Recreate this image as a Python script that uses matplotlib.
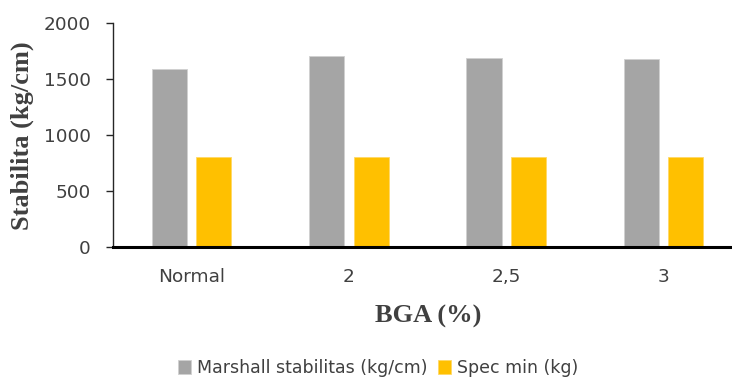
import numpy as np
import matplotlib
matplotlib.use("Agg")
import matplotlib.pyplot as plt

# data
categories = ["Normal", "2", "2,5", "3"]
marshall = [1590, 1703, 1688, 1673]
spec_min = [800, 800, 800, 800]
yticks = [0, 500, 1000, 1500, 2000]

grey = "#A5A5A5"
yellow = "#FFC000"
txt = "#404040"

fig = plt.figure(figsize=(7.32, 3.79), dpi=100)
ax = fig.add_axes([0.1544, 0.349, 0.8593, 0.591])

x = np.arange(len(categories))
w = 0.223
ax.bar(x - 0.141, marshall, w, color=grey, edgecolor="#D0D0D0", linewidth=0.6,
       label="Marshall stabilitas (kg/cm)")
ax.bar(x + 0.141, spec_min, w, color=yellow, edgecolor="#FFD966", linewidth=0.6,
       label="Spec min (kg)")

ax.set_xlim(-0.5, len(categories) - 0.5)
ax.set_ylim(0, 2000)
ax.set_yticks(yticks)
ax.set_xticks(x)
ax.set_xticklabels(categories)

for s in ("top", "right"):
    ax.spines[s].set_visible(False)
ax.spines["left"].set_color("#262626")
ax.spines["left"].set_linewidth(1.0)
ax.spines["bottom"].set_color("black")
ax.spines["bottom"].set_linewidth(2.2)

ax.tick_params(axis="y", length=5, width=1, color="#262626", pad=11,
               labelsize=13.3, labelcolor=txt)
ax.tick_params(axis="x", length=0, pad=15, labelsize=13.3, labelcolor=txt)
for lab in ax.get_xticklabels() + ax.get_yticklabels():
    lab.set_family("DejaVu Sans")

fig.text(0.031, 0.641, "Stabilita (kg/cm)", rotation=90, ha="center", va="center",
         family="Liberation Serif", weight="bold", fontsize=19, color=txt)
fig.text(0.585, 0.164, "BGA (%)", ha="center", va="center",
         family="Liberation Serif", weight="bold", fontsize=19, color=txt)

leg = fig.legend(loc="center", bbox_to_anchor=(0.516, 0.029), ncol=2, frameon=False,
                 handlelength=0.8, handleheight=0.8, handletextpad=0.3,
                 columnspacing=0.6, prop={"family": "DejaVu Sans", "size": 12.5})
for t in leg.get_texts():
    t.set_color(txt)

fig.savefig("out.png", dpi=100)
